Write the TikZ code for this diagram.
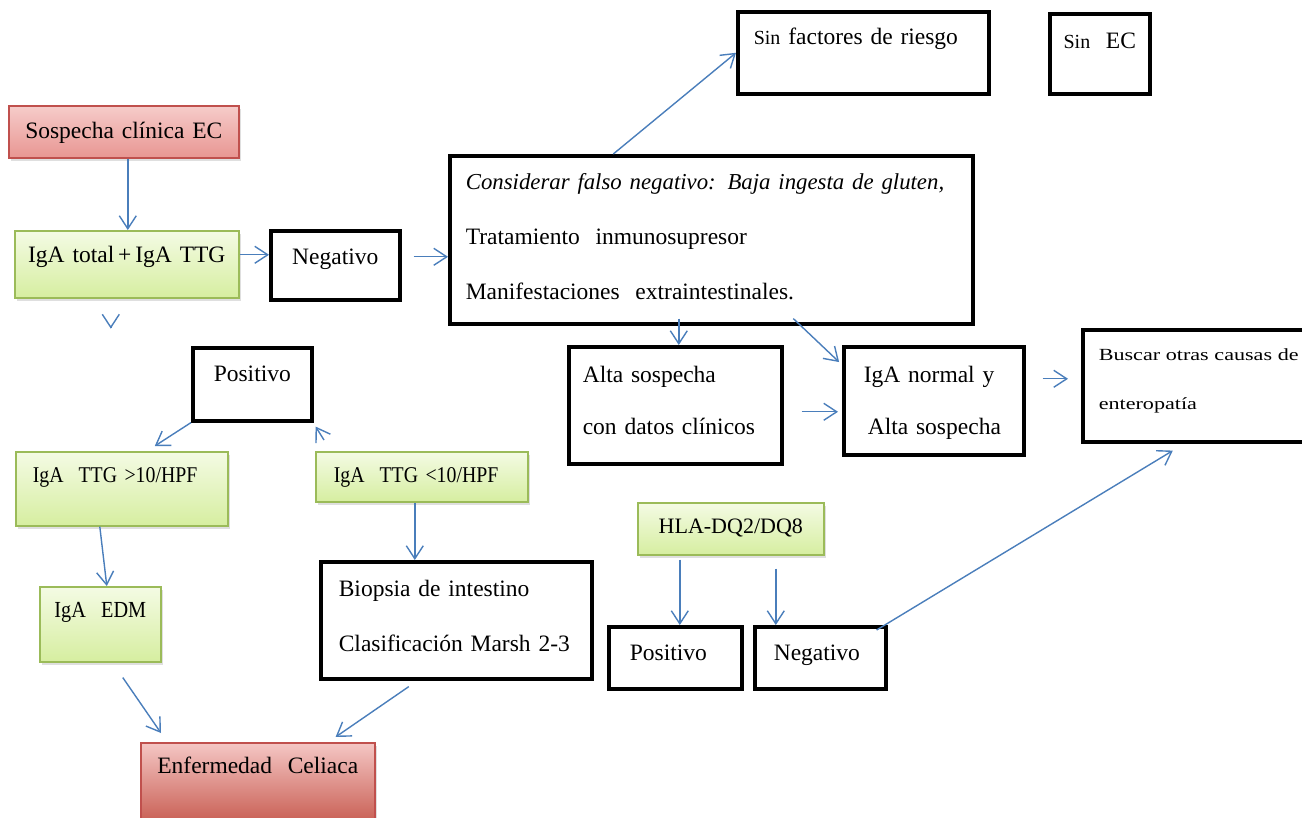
\documentclass[tikz,border=0pt]{standalone}
\usepackage{fontspec}
\setmainfont{Liberation Serif}
\newfontfamily\anchafont[FakeStretch=1.3]{Liberation Serif}
\newfontfamily\estrechafont[FakeStretch=0.88]{Liberation Serif}
\usetikzlibrary{shadows,arrows.meta}
\definecolor{azul}{RGB}{74,126,187}
\definecolor{bordeverde}{RGB}{155,187,89}
\definecolor{verdearriba}{RGB}{244,251,228}
\definecolor{verdeabajo}{RGB}{214,238,160}
\definecolor{borderojo}{RGB}{192,80,77}
\definecolor{rojoarriba}{RGB}{246,204,202}
\definecolor{rojoabajo}{RGB}{232,150,146}
\definecolor{rojooscuro}{RGB}{196,84,72}
\newcommand{\letra}{\fontsize{11.75}{14}\selectfont}
\tikzstyle{caja} = [anchor=north west, inner ysep=0pt, font=\letra]
\tikzstyle{negra} = [caja, draw=black, line width=1.8pt]
\tikzstyle{verde} = [caja, draw=bordeverde, line width=0.8pt,
  top color=verdearriba, bottom color=verdeabajo,
  drop shadow={shadow xshift=1pt, shadow yshift=-1.5pt, opacity=0.25}]
\tikzstyle{roja} = [caja, draw=borderojo, line width=0.8pt,
  top color=rojoarriba, bottom color=rojoabajo,
  drop shadow={shadow xshift=1pt, shadow yshift=-1.5pt, opacity=0.25}]
\tikzstyle{linea} = [draw, color=azul, line width=0.7pt,
  -{Straight Barb[length=6.5pt,width=8.5pt]}]

\begin{document}
\begin{tikzpicture}[x=0.5pt, y=-0.5pt]
  \useasboundingbox (0,0) rectangle (1302,818);

  % Draw diagram elements
  \node[roja, text width=109pt, inner xsep=3pt, align=center,
    text height=16.5pt, text depth=9.5pt] (sosp) at (8,105) {Sospecha clínica EC};
  \node[verde, text width=106pt, inner xsep=3pt, align=center,
    text height=16pt, text depth=17.5pt] (igatot) at (14,230) {IgA total\,+\,IgA TTG};
  \node[negra, text width=58.5pt, inner xsep=3pt, align=center,
    text height=17pt, text depth=17.5pt] (neg1) at (269,229) {Negativo};

  \node[negra, text width=245.5pt, inner xsep=8pt, align=left,
    text height=17pt, text depth=67pt, font=\fontsize{11.75}{27.5}\selectfont]
    (consid) at (448,154)
    {\mbox{\fontsize{11.4}{27.5}\selectfont\itshape Considerar falso negativo: Baja ingesta de gluten,}\\
     Tratamiento~~inmunosupresor\\
     Manifestaciones~~extraintestinales.};
  \node[negra, text width=109.5pt, inner xsep=8pt, align=left,
    text height=16.5pt, text depth=24.5pt] (sinfac) at (736,10)
    {{\fontsize{10}{12}\selectfont Sin} factores de riesgo};
  \node[negra, text width=44pt, inner xsep=3pt, align=center,
    text height=17.5pt, text depth=22.5pt] (sinec) at (1048,12)
    {{\fontsize{10}{12}\selectfont Sin}~~EC};

  \node[negra, text width=92.5pt, inner xsep=7pt, align=left,
    text height=18pt, text depth=40.5pt, font=\fontsize{11.75}{26}\selectfont]
    (alta) at (567,345) {Alta sospecha\\ con datos clínicos};
  \node[negra, text width=70pt, inner xsep=10pt, align=left,
    text height=18pt, text depth=36pt, font=\fontsize{11.75}{26}\selectfont]
    (igan) at (842,345) {IgA normal y\\ \hspace*{2pt}Alta sospecha};
  \node[negra, text width=100pt, inner xsep=8pt, align=left,
    text height=15.5pt, text depth=40.5pt,
    font=\anchafont\fontsize{8.5}{24.5}\selectfont]
    (buscar) at (1081,328) {Buscar otras causas de\\ enteropatía};

  \node[negra, text width=53.5pt, inner xsep=3pt, align=center,
    text height=17pt, text depth=19.5pt] (pos1) at (191,346) {Positivo};
  \node[verde, text width=89pt, inner xsep=8.5pt, align=left,
    text height=15.5pt, text depth=21.5pt, font=\estrechafont\fontsize{11.25}{13}\selectfont]
    (ttg1) at (15,451) {IgA~~TTG >10/HPF};
  \node[verde, text width=88pt, inner xsep=9pt, align=left,
    text height=15.5pt, text depth=9.5pt, font=\estrechafont\fontsize{11.25}{13}\selectfont]
    (ttg2) at (315,451) {IgA~~TTG <10/HPF};
  \node[verde, text width=54.5pt, inner xsep=3pt, align=center,
    text height=15.5pt, text depth=22pt, font=\estrechafont\fontsize{11.5}{13}\selectfont]
    (edm) at (39,586) {IgA~~EDM};
  \node[negra, text width=117.5pt, inner xsep=9pt, align=left,
    text height=17.5pt, text depth=41pt, font=\fontsize{11.75}{27.5}\selectfont]
    (biop) at (319,560) {Biopsia de intestino\\ Clasificación Marsh 2-3};
  \node[roja, text width=111pt, inner xsep=3pt, align=center,
    top color=rojoarriba!90!rojoabajo, bottom color=rojooscuro,
    text height=15.5pt, text depth=28.5pt] (enf) at (140,742) {Enfermedad~~Celiaca};

  \node[verde, text width=87pt, inner xsep=3pt, align=center,
    text height=15.5pt, text depth=10.5pt, font=\fontsize{11}{13}\selectfont]
    (hla) at (637,502) {HLA-DQ2/DQ8};
  \node[negra, text width=45.5pt, inner xsep=10.5pt, align=left,
    text height=17pt, text depth=14pt] (pos2) at (607,625) {Positivo};
  \node[negra, text width=46.5pt, inner xsep=9.5pt, align=left,
    text height=17pt, text depth=14pt] (neg2) at (753,625) {Negativo};

  % Draw arrows between elements
  \path [linea] ([xshift=2pt]sosp.south) -- ([xshift=2pt]sosp.south |- igatot.north);
  \path [linea] ([yshift=4.75pt]igatot.east) -- ([yshift=4.75pt]igatot.east -| neg1.west);
  \path [linea] ([xshift=-8pt,yshift=-14.8pt]igatot.south) -- ([xshift=-8pt,yshift=-15pt]igatot.south);
  \path [linea, shorten <=6pt] ([yshift=4.25pt]neg1.east) -- ([yshift=4.25pt]neg1.east -| consid.west);
  \path [linea] ([xshift=-49pt]consid.north) -- (sinfac.west);
  \path [linea] ([xshift=1.75pt,yshift=3.5pt]consid.south -| alta.north) -- ([xshift=1.75pt]alta.north);
  \path [linea, shorten >=2pt] ([xshift=41pt,yshift=3.5pt]consid.south) -- ([yshift=18pt]igan.west);
  \path [linea, shorten <=9pt, shorten >=2pt] ([yshift=-3.25pt]alta.east) -- ([yshift=-3.25pt]alta.east -| igan.west);
  \path [linea, shorten <=8.5pt, shorten >=6.5pt] ([yshift=11pt]igan.east) -- ([yshift=11pt]igan.east -| buscar.west);
  \path [linea] ([xshift=-5.5pt,yshift=-2.5pt]neg2.north east) -- ([xshift=-13pt,yshift=-3.5pt]buscar.south);

  \path [linea] (pos1.south west) -- ([xshift=16.5pt,yshift=2.5pt]ttg1.north);
  \path [linea] ([xshift=4.5pt,yshift=5.5pt]ttg2.north west) -- ([xshift=1pt,yshift=-2pt]pos1.south east);
  \path [linea] ([xshift=-11pt]ttg1.south) -- ([xshift=3.25pt]edm.north);
  \path [linea] ([xshift=-3.5pt]ttg2.south) -- ([xshift=-3.5pt]ttg2.south |- biop.north);
  \path [linea] ([xshift=11.25pt,yshift=-7.5pt]edm.south) -- ([xshift=10.5pt,yshift=4.5pt]enf.north west);
  \path [linea] ([xshift=-23.75pt,yshift=-3pt]biop.south) -- ([xshift=-20pt,yshift=2.5pt]enf.north east);
  \path [linea] ([xshift=-25.5pt,yshift=-2pt]hla.south) -- ([xshift=-25.5pt]hla.south |- pos2.north);
  \path [linea] ([xshift=22.5pt,yshift=-6.5pt]hla.south) -- ([xshift=22.5pt]hla.south |- neg2.north);
\end{tikzpicture}
\end{document}
